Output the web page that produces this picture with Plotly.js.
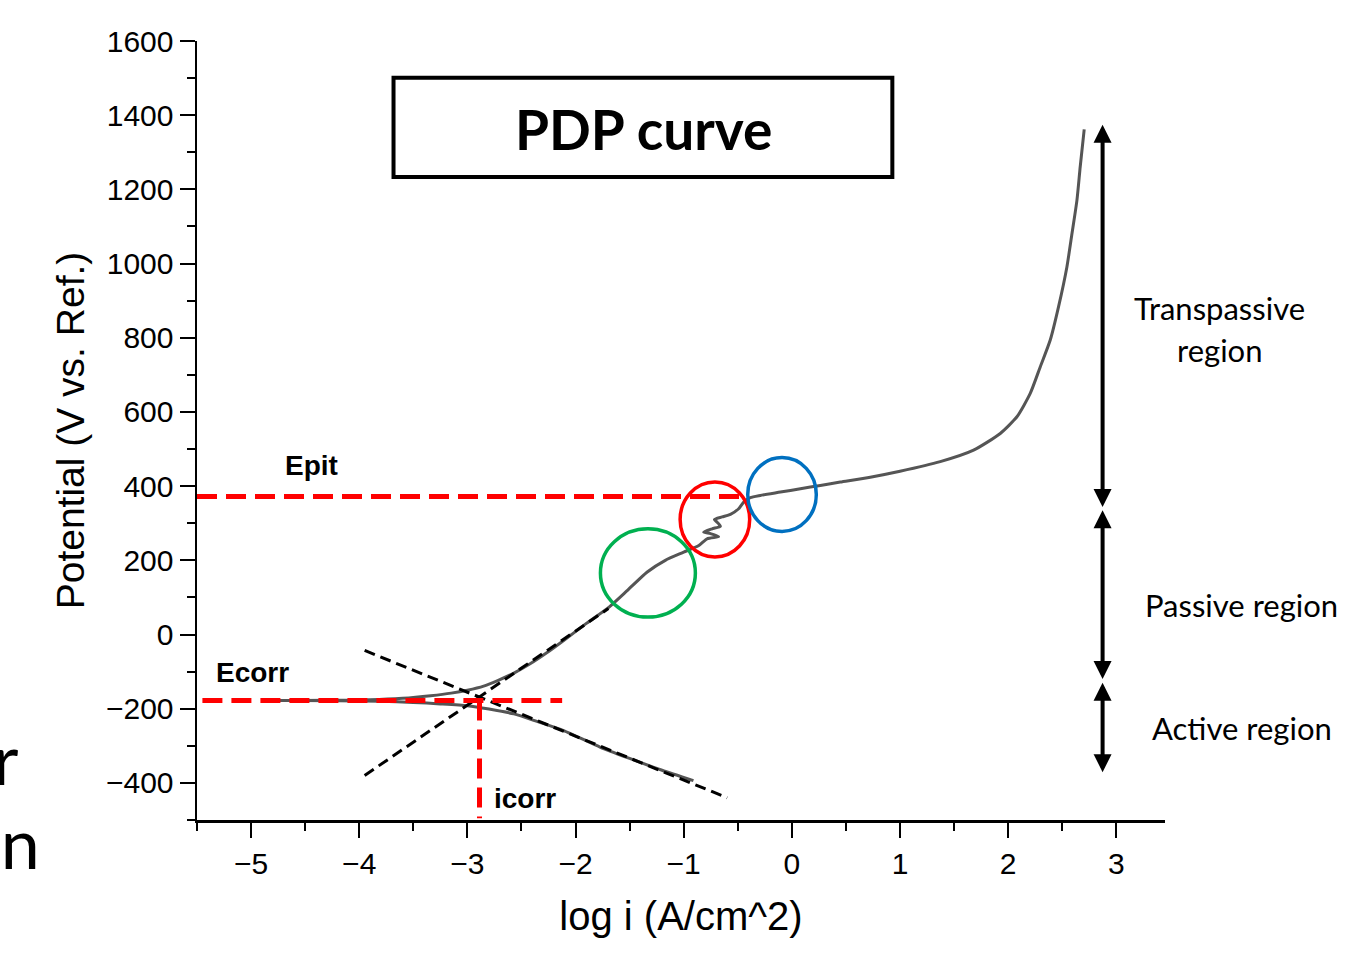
<!DOCTYPE html>
<html>
<head>
<meta charset="utf-8">
<script src="https://cdn.plot.ly/plotly-3.0.1.min.js"></script>
<style>html,body{margin:0;padding:0;background:#fff;}#chart{width:1352px;height:965px;}</style>
</head>
<body>
<div id="chart"></div>
<script>
// PDP curve: cathodic branch (right to left) then anodic branch (left to right)
const logI = [-0.91, -1.2, -1.5, -1.77, -2.11, -2.35, -2.57, -2.8, -3.0, -3.25, -3.5, -3.8, -4.2, -4.8,
  -4.3, -3.9, -3.6, -3.34, -3.15, -3.0, -2.85, -2.72, -2.57, -2.42, -2.27, -2.11, -1.9, -1.69, -1.52, -1.34, -1.17, -1.0, -0.86,
  -0.784, -0.677, -0.753, -0.815, -0.738, -0.661, -0.691, -0.716, -0.645, -0.568, -0.492, -0.445, -0.384, -0.291, -0.106, 0.079, 0.263, 0.448,
  0.725, 1.0, 1.372, 1.68, 1.927, 2.081, 2.204, 2.297, 2.389, 2.466, 2.543, 2.59, 2.636, 2.666, 2.703];
const potential = [-394, -366, -334, -304, -259, -235, -214, -201, -192, -187, -183, -180, -178.5, -178,
  -177.5, -176, -172, -165, -158, -150, -139, -124, -104, -79, -50, -16, 30, 74, 119, 168, 200, 222, 240,
  258, 264, 272, 276, 285, 292, 303, 310, 317, 324, 339, 357, 369, 375, 384, 393, 402, 411,
  424, 440, 466, 497, 542, 587, 650, 722, 794, 884, 991, 1081, 1171, 1261, 1362];

// Tafel extrapolation lines
const tafelCathX = [-3.95, -0.598];
const tafelCathY = [-43, -440];
const tafelAnodX = [-3.95, -1.696];
const tafelAnodY = [-380, 70];

// Reference levels
const epitX = [-5.5, -0.40];
const epitY = [372, 372];
const ecorrX = [-5.45, -2.124];
const ecorrY = [-178, -178];
const icorrX = [-2.888, -2.888];
const icorrY = [-178, -495];

// Circles [x0, x1, y0, y1]
const greenCircle = [-1.77, -0.892, 47, 285];
const redCircle = [-1.033, -0.39, 209, 411];
const blueCircle = [-0.408, 0.226, 278, 477];

// Region arrows (x, top, bottom)
const arrowX = 2.873;
const transpassive = [1374, 340];
const passive = [335, -124];
const active = [-130, -375];

const xTicks = [-5, -4, -3, -2, -1, 0, 1, 2, 3];
const xTickText = ['\u22125', '\u22124', '\u22123', '\u22122', '\u22121', '0', '1', '2', '3'];
const yTicks = [-400, -200, 0, 200, 400, 600, 800, 1000, 1200, 1400, 1600];
const yTickText = ['\u2212400', '\u2212200', '0', '200', '400', '600', '800', '1000', '1200', '1400', '1600'];

const redDash = {color: '#ff0000', width: 5, dash: '20px,9px'};
const blackDash = {color: '#000', width: 3, dash: '11px,6px'};

const traces = [
  {x: logI, y: potential, mode: 'lines', line: {color: '#555555', width: 3, shape: 'spline', smoothing: 0.6}, name: 'PDP'},
  {x: tafelCathX, y: tafelCathY, mode: 'lines', line: blackDash},
  {x: tafelAnodX, y: tafelAnodY, mode: 'lines', line: blackDash},
  {x: ecorrX, y: ecorrY, mode: 'lines', line: redDash},
  {x: epitX, y: epitY, mode: 'lines', line: redDash},
  {x: icorrX, y: icorrY, mode: 'lines', line: redDash}
];

function circle(c, color) {
  return {type: 'circle', xref: 'x', yref: 'y', x0: c[0], x1: c[1], y0: c[2], y1: c[3], line: {color: color, width: 3.5}};
}

function arrow(top, bottom) {
  return {x: arrowX, y: top, ax: arrowX, ay: bottom, xref: 'x', yref: 'y', axref: 'x', ayref: 'y',
    text: '', showarrow: true, arrowhead: 2, startarrowhead: 2, arrowside: 'end+start', arrowwidth: 4, arrowsize: 0.9, startarrowsize: 0.9, arrowcolor: '#000', standoff: 0, startstandoff: 0};
}

const lbl = {family: 'Lato, "Open Sans", sans-serif', size: 31, color: '#000'};
const bold = {family: '"Liberation Sans", Arial, sans-serif', size: 28, color: '#000', weight: 700};
const big = {family: 'Lato, sans-serif', size: 70, color: '#000'};

const layout = {
  width: 1352, height: 965,
  margin: {l: 197, r: 187, t: 41, b: 145},
  paper_bgcolor: '#fff', plot_bgcolor: '#fff',
  showlegend: false,
  font: {family: '"Liberation Sans", Arial, sans-serif', color: '#000'},
  xaxis: {
    range: [-5.5, 3.45], showgrid: false, zeroline: false,
    showline: true, linecolor: '#000', linewidth: 2.5,
    ticks: 'outside', ticklen: 15, tickwidth: 2, tickcolor: '#000',
    tickvals: xTicks, ticktext: xTickText,
    tickfont: {size: 30, color: '#000'},
    minor: {dtick: 0.5, tick0: 0, ticks: 'outside', ticklen: 8, tickwidth: 2, tickcolor: '#000'},
    title: {text: 'log i (A/cm^2)', font: {size: 40, color: '#000'}, standoff: 24}
  },
  yaxis: {
    range: [-500, 1600], showgrid: false, zeroline: false,
    showline: true, linecolor: '#000', linewidth: 2.5,
    ticks: 'outside', ticklen: 15, tickwidth: 2, tickcolor: '#000',
    tickvals: yTicks, ticktext: yTickText,
    tickfont: {size: 30, color: '#000'},
    minor: {dtick: 100, tick0: 0, ticks: 'outside', ticklen: 8, tickwidth: 2, tickcolor: '#000'},
    title: {text: 'Potential (V vs. Ref.)', font: {size: 39, color: '#000'}, standoff: 10}
  },
  shapes: [
    circle(greenCircle, '#00b050'),
    circle(redCircle, '#ff0000'),
    circle(blueCircle, '#0070c0'),
    {type: 'rect', xref: 'x', yref: 'y', x0: -3.683, x1: 0.929, y0: 1233.5, y1: 1500.7, line: {color: '#000', width: 4}}
  ],
  annotations: [
    {x: -1.372, y: 1362, xref: 'x', yref: 'y', text: '<b>PDP curve</b>', showarrow: false, font: {family: 'Lato, "Open Sans", sans-serif', size: 55, color: '#000'}},
    {x: -4.44, y: 455, xref: 'x', yref: 'y', text: '<b>Epit</b>', showarrow: false, font: bold},
    {x: -4.99, y: -102, xref: 'x', yref: 'y', text: '<b>Ecorr</b>', showarrow: false, font: bold},
    {x: -2.463, y: -443, xref: 'x', yref: 'y', text: '<b>icorr</b>', showarrow: false, font: bold},
    {x: 1.0558, y: 0.657, xref: 'paper', yref: 'paper', xanchor: 'center', yanchor: 'middle', text: 'Transpassive', showarrow: false, font: lbl},
    {x: 1.0558, y: 0.6033, xref: 'paper', yref: 'paper', xanchor: 'center', yanchor: 'middle', text: 'region', showarrow: false, font: lbl},
    {x: 1.0795, y: 0.276, xref: 'paper', yref: 'paper', xanchor: 'center', yanchor: 'middle', text: 'Passive region', showarrow: false, font: lbl},
    {x: 1.080, y: 0.118, xref: 'paper', yref: 'paper', xanchor: 'center', yanchor: 'middle', text: 'Active region', showarrow: false, font: lbl},
    {x: (20 - 197) / 968, y: (820 - 758) / 779, xref: 'paper', yref: 'paper', xanchor: 'right', yanchor: 'middle', height: 56, valign: 'middle', text: 'r', showarrow: false, font: big},
    {x: (42 - 197) / 968, y: (820 - 842) / 779, xref: 'paper', yref: 'paper', xanchor: 'right', yanchor: 'middle', height: 56, valign: 'middle', text: 'on', showarrow: false, font: big},
    arrow(transpassive[0], transpassive[1]),
    arrow(passive[0], passive[1]),
    arrow(active[0], active[1])
  ]
};

Plotly.newPlot('chart', traces, layout, {displayModeBar: false, staticPlot: true});
</script>
</body>
</html>
